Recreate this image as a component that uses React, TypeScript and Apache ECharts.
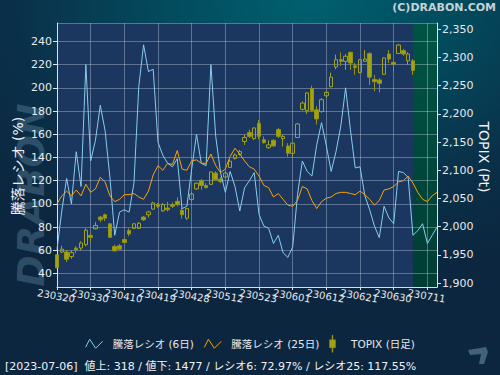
import React, { useEffect, useRef } from 'react';
import * as echarts from 'echarts';

const FONT = '"DejaVu Sans", "Noto Sans CJK JP", sans-serif';

const dates = [
  '230320','230322','230323','230324','230327','230328','230329','230330','230331',
  '230403','230404','230405','230406','230407','230410','230411','230412','230413','230414',
  '230417','230418','230419','230420','230421','230424','230425','230426','230427','230428',
  '230501','230502','230508','230509','230510','230511','230512','230515','230516','230517',
  '230518','230519','230522','230523','230524','230525','230526','230529','230530','230531',
  '230601','230602','230605','230606','230607','230608','230609','230612','230613','230614',
  '230615','230616','230619','230620','230621','230622','230623','230626','230627','230628',
  '230629','230630','230703','230704','230705','230706','230707','230710','230711','230712','230713'
];

// 騰落レシオ (6日)
const ratio6 = [
  61, 94, 122, 100, 145, 115, 220, 137, 155, 185,
  163, 123, 73, 93, 95, 93, 118, 201, 237, 214,
  216, 153, 142, 135, 132, 139, 96, 98, 130, 160,
  135, 133, 220, 158, 127, 110, 128, 115, 94, 114,
  120, 127, 91, 81, 79, 66, 73, 58, 54, 63,
  108, 137, 128, 124, 151, 170, 150, 128, 145, 167,
  200, 164, 131, 132, 107, 95, 81, 71, 98, 88,
  83, 128, 127, 123, 73, 77, 83, 66, 73, 80
];

// 騰落レシオ (25日)
const ratio25 = [
  100, 107, 111, 107, 112, 107, 117, 110, 113, 123,
  119, 107, 102, 104, 108, 108, 109, 106, 104, 111,
  125, 133, 129, 135, 134, 146, 130, 129, 137, 138,
  135, 135, 143, 133, 127, 130, 141, 148, 143, 137,
  132, 130, 124, 116, 114, 106, 109, 104, 99, 98,
  103, 115, 113, 103, 96, 102, 105, 106, 109, 110,
  110, 109, 108, 111, 108, 104, 99, 103, 112, 113,
  115, 119, 120, 124, 118, 110, 104, 102, 107, 110
];

// TOPIX (日足)
const topixOpen = [
  1950, 1955, 1955, 1947, 1962, 1962, 1968, 1984.5, 1996, 2017,
  2021, 2005, 1965, 1966, 1977, 1993, 1997, 1997, 2017, 2021,
  2031, 2040, 2028, 2033, 2039, 2045, 2029, 2015, 2048, 2067,
  2082, 2073, 2075, 2095, 2084, 2088, 2105, 2121, 2128, 2151,
  2167, 2156, 2183, 2154, 2140, 2153, 2172, 2156, 2143, 2130,
  2158, 2208, 2206, 2245, 2207, 2204, 2232, 2248, 2283, 2296,
  2293, 2309, 2285, 2273, 2293, 2307, 2261, 2260, 2270, 2306,
  2291, 2307, 2312, 2294, 2294
];
const topixClose = [
  1927, 1960, 1942, 1954, 1959, 1971, 1994, 1981, 2002, 2012,
  2015, 1981, 1957, 1960, 1972, 1987, 2005, 2006, 2012, 2026,
  2042, 2036, 2039, 2030, 2036, 2039, 2021, 2032, 2058, 2077,
  2073, 2069, 2097, 2083, 2080, 2095, 2116, 2127, 2133, 2158,
  2160, 2175, 2160, 2149, 2145, 2143, 2160, 2160, 2130, 2148,
  2182, 2219, 2237, 2206, 2191, 2225, 2238, 2265, 2296, 2293,
  2302, 2290, 2282, 2296, 2297, 2265, 2257, 2254, 2299, 2297,
  2288, 2322, 2306, 2306, 2277
];
const topixLow = [
  1926, 1953, 1937, 1943, 1953, 1958, 1965, 1972, 1995, 2008,
  2010, 1980, 1956, 1959, 1971, 1983, 1996, 1996, 2010, 2016,
  2030, 2033, 2026, 2027, 2033, 2036, 2014, 2012, 2045, 2065,
  2065, 2068, 2074, 2082, 2077, 2086, 2104, 2119, 2126, 2145,
  2157, 2154, 2155, 2147, 2138, 2142, 2157, 2142, 2124, 2124,
  2157, 2206, 2200, 2204, 2181, 2202, 2228, 2247, 2279, 2285,
  2278, 2278, 2269, 2272, 2292, 2251, 2240, 2238, 2269, 2290,
  2275, 2306, 2303, 2287, 2269
];
const topixHigh = [
  1951, 1966, 1959, 1958, 1965, 1974, 1997, 1989, 2008, 2019,
  2023, 2006, 1968, 1969, 1980, 1997, 2006, 2008, 2019, 2028,
  2044, 2042, 2042, 2044, 2043, 2052, 2033, 2033, 2061, 2078,
  2084, 2077, 2098, 2098, 2088, 2098, 2119, 2130, 2136, 2163,
  2172, 2176, 2189, 2160, 2153, 2155, 2175, 2163, 2148, 2149,
  2184, 2222, 2238, 2250, 2214, 2228, 2241, 2273, 2305, 2309,
  2306, 2310, 2290, 2297, 2313, 2309, 2269, 2263, 2300, 2313,
  2294, 2323, 2315, 2309, 2297
];

const leftAxisRange = [28.5, 255.8];
const rightAxisRange = [1893, 2361];
const leftTickStep = 20;
const rightTickStep = 50;
const labelEvery = 7;

const statusDate = '2023-07-06';
const advances = 318;
const declines = 1477;
const lastRatio6 = '72.97';
const lastRatio25 = '117.55';

const NAME6 = '騰落レシオ (6日)';
const NAME25 = '騰落レシオ (25日)';
const NAMETOPIX = 'TOPIX (日足)';

const BLUE = '#87cdee';
const ORANGE = '#ffa200';
const OLIVE = '#a2a214';
const GRIDC = 'rgba(205,215,235,0.38)';
const TXT = '#e6e9ee';

export default function App() {
  const ref = useRef<HTMLDivElement>(null);
  useEffect(() => {
    document.body.style.margin = '0';
    const chart = echarts.init(ref.current!, undefined, { renderer: 'svg' });
    const lastIdx = topixClose.length - 1;
    const candles = topixOpen.map((o, i) => [o, topixClose[i], topixLow[i], topixHigh[i]]);
    const bgRegions = [
      [0, lastIdx, 0],
      [lastIdx, dates.length - 1, 1],
    ];
    const greenFill = new echarts.graphic.LinearGradient(0, 0, 0, 1, [
      { offset: 0, color: '#005443' },
      { offset: 1, color: '#003d34' },
    ]);
    const isLabelIdx = (i: number) => i % labelEvery === 0;

    const option: any = {
      animation: false,
      textStyle: { fontFamily: FONT },
      grid: { left: 57, right: 63, top: 23, bottom: 88 },
      legend: {
        left: 'center',
        top: 330,
        itemWidth: 17,
        itemHeight: 17,
        itemGap: 10,
        selectedMode: false,
        textStyle: { color: TXT, fontSize: 10.5, fontFamily: FONT, padding: [0, 0, 0, 5] },
        data: [
          { name: NAME6, icon: 'path://M0,8L4,0L10,9L17,2', itemStyle: { color: 'transparent', borderColor: BLUE, borderWidth: 1 } },
          { name: NAME25, icon: 'path://M0,8L4,0L10,9L17,2', itemStyle: { color: 'transparent', borderColor: ORANGE, borderWidth: 1 } },
          { name: NAMETOPIX, icon: 'path://M2.5,0h1v4.5h2.5v8h-2.5v4.5h-1v-4.5h-2.5v-8h2.5z', itemStyle: { color: OLIVE, borderColor: '#8a8a10', borderWidth: 0.5 } },
        ],
      },
      xAxis: {
        type: 'category',
        data: dates,
        boundaryGap: false,
        axisLine: { show: true, lineStyle: { color: '#d8dde6', width: 1 } },
        axisTick: { show: true, interval: isLabelIdx, length: 3, lineStyle: { color: '#d8dde6' } },
        axisLabel: {
          interval: 0,
          formatter: (v: string, i: number) => (isLabelIdx(i) ? v : ''),
          hideOverlap: false,
          color: TXT,
          fontSize: 10,
          fontFamily: FONT,
          rotate: -10,
          align: 'center',
          verticalAlign: 'top',
          margin: 4,
        },
        splitLine: { show: true, interval: isLabelIdx, lineStyle: { color: GRIDC, width: 1 } },
      },
      yAxis: [
        {
          type: 'value',
          min: leftAxisRange[0],
          max: leftAxisRange[1],
          minInterval: leftTickStep,
          maxInterval: leftTickStep,
          splitNumber: 11,
          axisLine: { show: true, lineStyle: { color: '#e0e4ea', width: 1 } },
          axisTick: { show: true, length: 4, lineStyle: { color: '#e0e4ea' } },
          axisLabel: { color: TXT, fontSize: 11, fontFamily: FONT, margin: 5, showMinLabel: false, showMaxLabel: false },
          splitLine: { show: true, lineStyle: { color: GRIDC, width: 1 } },
        },
        {
          type: 'value',
          position: 'right',
          min: rightAxisRange[0],
          max: rightAxisRange[1],
          minInterval: rightTickStep,
          maxInterval: rightTickStep,
          splitNumber: 9,
          axisLine: { show: true, lineStyle: { color: '#e0e4ea', width: 1 } },
          axisTick: { show: true, length: 4, lineStyle: { color: '#e0e4ea' } },
          axisLabel: {
            color: TXT, fontSize: 11, fontFamily: FONT, margin: 5, showMinLabel: false, showMaxLabel: false,
            formatter: (v: number) => v.toLocaleString('en-US'),
          },
          splitLine: { show: false },
        },
      ],
      series: [
        {
          type: 'custom',
          silent: true,
          z: -1,
          xAxisIndex: 0,
          yAxisIndex: 0,
          data: bgRegions,
          encode: { x: [0, 1] },
          clip: true,
          renderItem: (params: any, api: any) => {
            const cs = params.coordSys;
            const x0 = api.coord([api.value(0), leftAxisRange[0]])[0];
            const x1 = api.coord([api.value(1), leftAxisRange[0]])[0];
            return {
              type: 'rect',
              shape: { x: x0, y: cs.y, width: x1 - x0, height: cs.height },
              style: { fill: api.value(2) === 0 ? '#1b365f' : greenFill },
            };
          },
        },
        {
          name: NAMETOPIX,
          type: 'candlestick',
          yAxisIndex: 1,
          data: candles,
          barWidth: 4,
          itemStyle: {
            color: 'transparent',
            color0: OLIVE,
            borderColor: OLIVE,
            borderColor0: '#93930f',
            borderWidth: 1,
          },
        },
        {
          name: NAME6,
          type: 'line',
          yAxisIndex: 0,
          data: ratio6,
          showSymbol: false,
          lineStyle: { color: BLUE, width: 1 },
          itemStyle: { color: BLUE },
        },
        {
          name: NAME25,
          type: 'line',
          yAxisIndex: 0,
          data: ratio25,
          showSymbol: false,
          lineStyle: { color: ORANGE, width: 1 },
          itemStyle: { color: ORANGE },
        },
      ],
      graphic: [
        {
          type: 'text', x: 31, y: 195, rotation: Math.PI / 2, silent: true, z: -10,
          style: { text: 'DRABON', fill: 'rgba(120,162,185,0.32)', font: 'italic bold 38px "DejaVu Sans"', align: 'center', verticalAlign: 'middle' },
        },
        {
          type: 'text', right: 4, top: 2,
          style: { text: '(C)DRABON.COM', fill: '#c5d2d8', font: 'bold 11px "DejaVu Sans"' },
        },
        {
          type: 'text', x: 18, y: 166, rotation: Math.PI / 2,
          style: { text: '騰落レシオ (%)', fill: '#f0f2f5', font: '14px "DejaVu Sans", "Noto Sans CJK JP"', align: 'center', verticalAlign: 'middle' },
        },
        {
          type: 'text', x: 484, y: 157, rotation: -Math.PI / 2,
          style: { text: 'TOPIX (Pt)', fill: '#f0f2f5', font: '14px "DejaVu Sans"', align: 'center', verticalAlign: 'middle' },
        },
        {
          type: 'text', x: 5, y: 366,
          style: {
            text: `[${statusDate}]  値上: ${advances} / 値下: ${declines} / レシオ6: ${lastRatio6}% / レシオ25: ${lastRatio25}%`,
            fill: '#f0f2f5', font: '11px "DejaVu Sans", "Noto Sans CJK JP"', align: 'left', verticalAlign: 'middle',
          },
        },
        {
          type: 'polygon', silent: true,
          shape: { points: [[468, 350], [486, 347], [488, 352], [484, 364], [479, 364], [481, 354], [470, 355]] },
          style: { fill: 'rgba(110,150,170,0.55)' },
        },
      ],
    };
    chart.setOption(option);
    return () => chart.dispose();
  }, []);
  return (
    <div
      ref={ref}
      style={{
        width: 500,
        height: 375,
        background: 'radial-gradient(ellipse 85% 75% at 62% 0%, #00606f 0%, #034a5d 35%, #0a3049 70%, #0c263f 100%)',
      }}
    />
  );
}
